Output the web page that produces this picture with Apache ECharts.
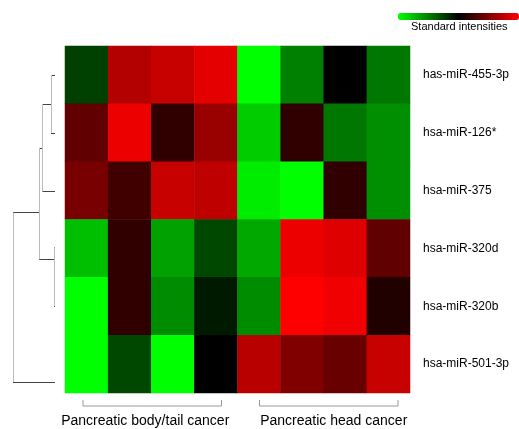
<!DOCTYPE html>
<html>
<head>
<meta charset="utf-8">
<script src="https://cdn.jsdelivr.net/npm/echarts@6/dist/echarts.min.js"></script>
<style>html,body{margin:0;padding:0;background:#fff;}#chart{width:519px;height:429px;}</style>
</head>
<body>
<div id="chart"></div>
<script>
// ---- data ----
var samples = ['BT1','BT2','BT3','BT4','H1','H2','H3','H4'];
var mirnas = ['has-miR-455-3p','hsa-miR-126*','hsa-miR-375','hsa-miR-320d','hsa-miR-320b','hsa-miR-501-3p'];
var rowValues = [
  [-0.25, 0.70, 0.78, 0.90, -1.00, -0.50, 0.00, -0.47],
  [ 0.38, 0.93, 0.19, 0.60, -0.80,  0.19, -0.47, -0.56],
  [ 0.47, 0.25, 0.78, 0.75, -0.93, -1.00,  0.19, -0.56],
  [-0.75, 0.19, -0.63, -0.28, -0.66, 0.93,  0.87,  0.38],
  [-1.00, 0.19, -0.55, -0.10, -0.55, 1.00,  0.94,  0.13],
  [-1.00, -0.28, -1.00, 0.00,  0.72, 0.50,  0.41,  0.78]
];
var groupNames = ['Pancreatic body/tail cancer', 'Pancreatic head cancer'];
var groupFrom = [0, 4];
var groupTo = [3, 7];
// dendrogram: leaf line positions (row units) and merges [childA, childB, height, joinY]
var leafY = [0.5, 1.5, 2.52, 3.48, 4.5, 5.81];
var merges = [
  [0, 1, 0.073, 1.0],
  [3, 4, 0.018, 3.69],
  [6, 2, 0.236, 1.76],
  [8, 7, 0.29, 2.88],
  [9, 5, 0.764, null]
];

// ---- layout / style (not data) ----
var labelShift = [-6, 10];
var bracketInset = [[18, 16], [22, 12]];

// ---- build ----
var heatData = [];
rowValues.forEach(function (row, r) {
  row.forEach(function (v, c) { heatData.push([c, r, v]); });
});

var nodeY = leafY.slice();
var nodeH = leafY.map(function () { return 0; });
merges.forEach(function (m) { nodeY.push(m[3]); nodeH.push(m[2]); });
var hLines = [], vLines = [];
merges.forEach(function (m) {
  [m[0], m[1]].forEach(function (ch) {
    hLines.push({coords: [[nodeH[ch], nodeY[ch]], [m[2], nodeY[ch]]]});
  });
  vLines.push({coords: [[m[2], nodeY[m[0]]], [m[2], nodeY[m[1]]]]});
});

var chart = echarts.init(document.getElementById('chart'));
var font = 'Liberation Sans, Arial, sans-serif';
chart.setOption({
  animation: false,
  backgroundColor: '#fff',
  textStyle: {fontFamily: font},
  grid: [
    {left: 65, right: 109, top: 46, bottom: 36},
    {left: 0, width: 55, top: 46, bottom: 36}
  ],
  xAxis: [
    {type: 'category', data: samples, gridIndex: 0, show: false},
    {type: 'value', gridIndex: 1, min: 0, max: 1, inverse: true, show: false}
  ],
  yAxis: [
    {type: 'category', data: mirnas, gridIndex: 0, inverse: true, position: 'right',
     axisLine: {show: false}, axisTick: {show: false},
     axisLabel: {color: '#000', fontSize: 12, margin: 13, fontFamily: font}},
    {type: 'value', gridIndex: 1, min: 0, max: 6, inverse: true, show: false}
  ],
  visualMap: {
    type: 'continuous', min: -1, max: 1, orient: 'horizontal',
    left: 398, top: 13, itemWidth: 7, itemHeight: 121, padding: 0,
    calculable: false, showLabel: false, text: null, seriesIndex: 0,
    inRange: {color: ['#00ff00', '#000000', '#ff0000']},
    handleStyle: {opacity: 0}, indicatorStyle: {opacity: 0}
  },
  title: {
    text: 'Standard intensities', left: 411, top: 21, padding: 0,
    textStyle: {fontSize: 11, fontWeight: 'normal', color: '#000', fontFamily: font}
  },
  series: [
    {type: 'heatmap', xAxisIndex: 0, yAxisIndex: 0, data: heatData,
     itemStyle: {borderWidth: 0}, emphasis: {disabled: true}},
    {type: 'lines', coordinateSystem: 'cartesian2d', xAxisIndex: 1, yAxisIndex: 1,
     data: hLines, lineStyle: {color: '#444', width: 1, opacity: 1}, silent: true},
    {type: 'lines', coordinateSystem: 'cartesian2d', xAxisIndex: 1, yAxisIndex: 1,
     data: vLines, lineStyle: {color: '#bbb', width: 1, opacity: 1}, silent: true}
  ]
});

// group brackets + labels below the heatmap
var gfx = [];
groupNames.forEach(function (name, i) {
  var a = chart.convertToPixel({xAxisIndex: 0, yAxisIndex: 0}, [groupFrom[i], 5]);
  var b = chart.convertToPixel({xAxisIndex: 0, yAxisIndex: 0}, [groupTo[i], 5]);
  var half = (b[0] - a[0]) / (groupTo[i] - groupFrom[i]) / 2;
  var s = a[0] - half, e = b[0] + half;
  var x1 = s + bracketInset[i][0], x2 = e - bracketInset[i][1], y = 406;
  gfx.push({type: 'polyline', shape: {points: [[x1, y - 6], [x1, y], [x2, y], [x2, y - 6]]},
            style: {stroke: '#999', lineWidth: 1, fill: null}, silent: true});
  gfx.push({type: 'text', x: (s + e) / 2 + labelShift[i], y: 421,
            style: {text: name, fill: '#000', font: '14px ' + font, align: 'center', verticalAlign: 'middle'}});
});
chart.setOption({graphic: gfx});
</script>
</body>
</html>
